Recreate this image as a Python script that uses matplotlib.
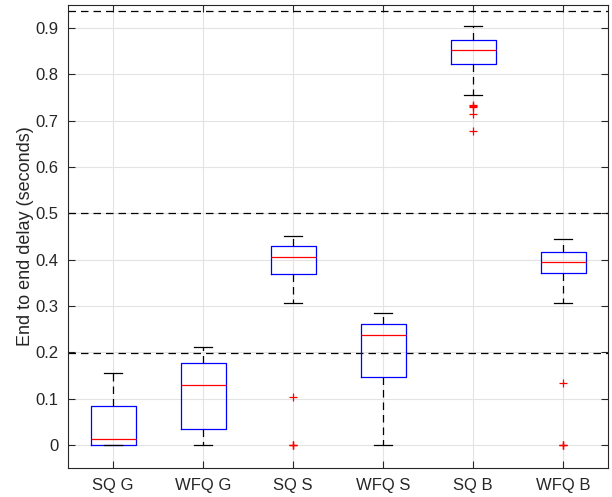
import matplotlib
matplotlib.use("Agg")
import matplotlib.pyplot as plt
import numpy as np

plt.rcParams['font.family'] = ['Liberation Sans', 'DejaVu Sans']

# data (seconds)
labels = ["SQ G", "WFQ G", "SQ S", "WFQ S", "SQ B", "WFQ B"]
q1 = [0.0, 0.0345, 0.368, 0.146, 0.822, 0.3705]
med = [0.013, 0.129, 0.406, 0.238, 0.853, 0.394]
q3 = [0.0835, 0.176, 0.429, 0.260, 0.875, 0.417]
whislo = [0.0, 0.0, 0.3065, 0.0, 0.755, 0.306]
whishi = [0.156, 0.2115, 0.452, 0.2856, 0.905, 0.445]
fliers = [
    [],
    [],
    [0.104, 0.0, 0.0, 0.0],
    [],
    [0.735, 0.732, 0.729, 0.714, 0.677],
    [0.133, 0.0, 0.0, 0.0],
]
limits = [0.937, 0.5, 0.198]

stats = []
for i in range(len(labels)):
    stats.append(dict(label=labels[i], q1=q1[i], med=med[i], q3=q3[i],
                      whislo=whislo[i], whishi=whishi[i], fliers=fliers[i]))

fig = plt.figure(figsize=(6.12, 4.97), dpi=100)
ax = fig.add_axes([68 / 612, 29 / 497, 540 / 612, 463 / 497])

ax.bxp(stats, positions=np.arange(1, 7), widths=0.5, capwidths=0.2,
       boxprops=dict(color='blue', linewidth=0.9),
       medianprops=dict(color='red', linewidth=0.9),
       whiskerprops=dict(color='black', linestyle=(0, (6, 4)), linewidth=0.9),
       capprops=dict(color='black', linewidth=0.9),
       flierprops=dict(marker='+', markeredgecolor='red', markersize=6,
                       linestyle='none', markeredgewidth=0.9))

for y in limits:
    ax.axhline(y, color='black', linestyle=(0, (6, 4)), linewidth=0.9, zorder=1)

ax.set_xlim(0.5, 6.5)
ax.set_ylim(-0.05, 0.95)
ax.set_yticks(np.arange(0, 0.91, 0.1))
ax.set_yticklabels(["0", "0.1", "0.2", "0.3", "0.4", "0.5", "0.6", "0.7", "0.8", "0.9"])
ax.set_xticks(np.arange(1, 7))
ax.set_xticklabels(labels)
ax.grid(True, color='#e3e3e3', linewidth=0.8)
ax.set_axisbelow(True)
ax.tick_params(direction='in', top=True, right=True, labelsize=12,
               colors='#262626', length=5, pad=7)
for s in ax.spines.values():
    s.set_color('#262626')
    s.set_linewidth(0.8)
ax.set_ylabel("End to end delay (seconds)", fontsize=13, color='#262626',
              labelpad=1)

fig.savefig("out.png", dpi=100)
